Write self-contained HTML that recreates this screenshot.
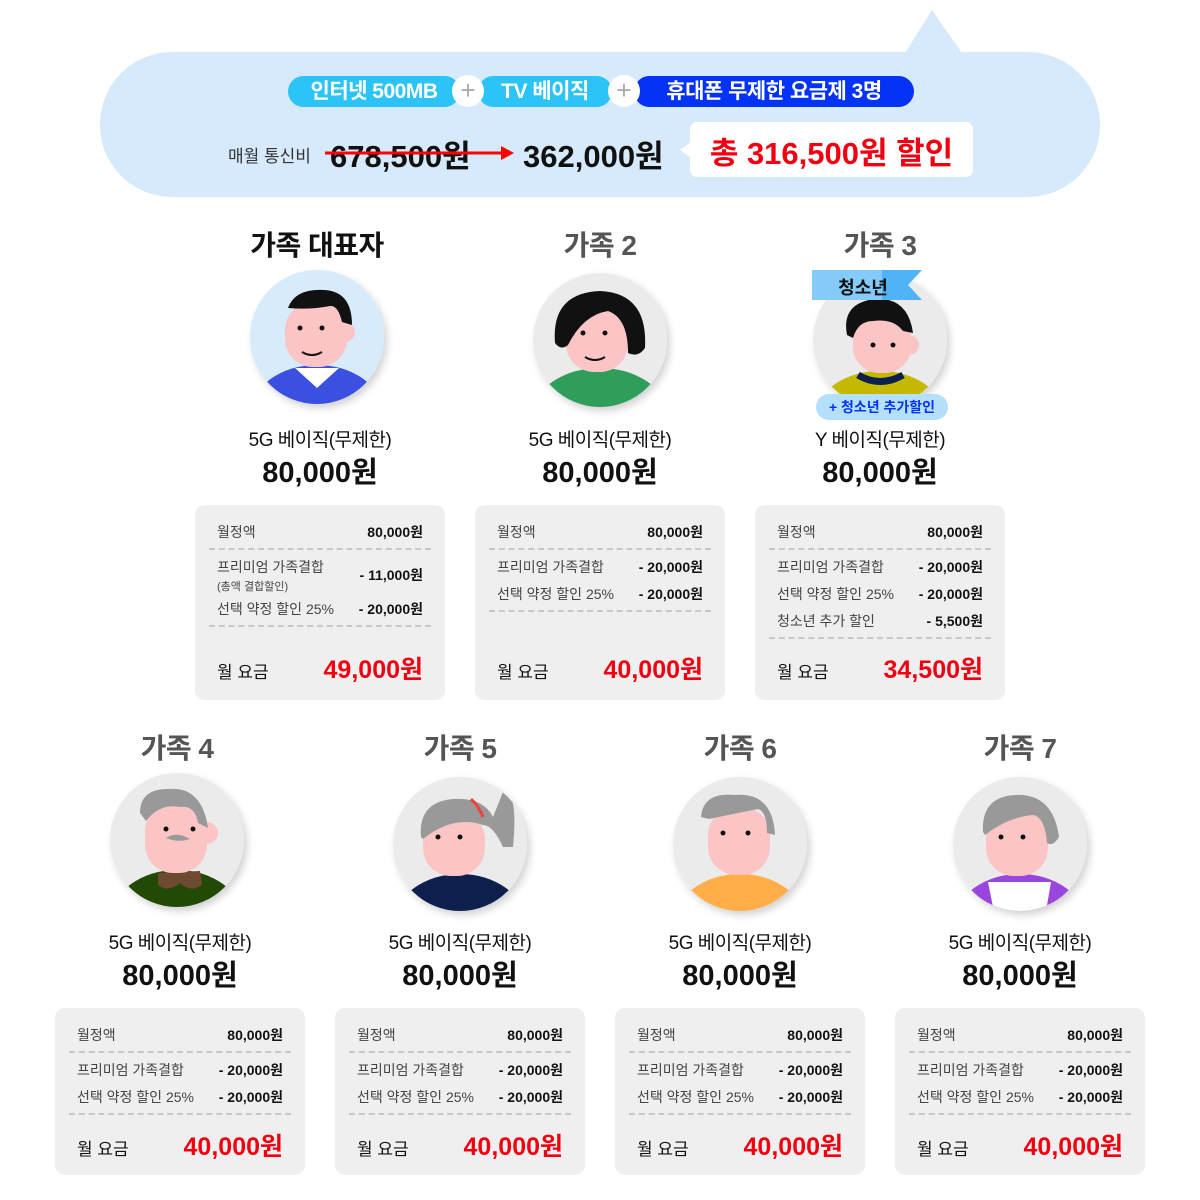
<!DOCTYPE html>
<html><head><meta charset="utf-8"><style>
*{margin:0;padding:0;box-sizing:border-box}
body{width:1200px;height:1200px;background:#fff;position:relative;overflow:hidden;font-family:"Liberation Sans","Noto Sans CJK KR",sans-serif;color:#111}
.a{position:absolute}
.pill{position:absolute;top:76px;height:31px;border-radius:16px;color:#fff;font-weight:bold;font-size:21px;line-height:31px;text-align:center;letter-spacing:-0.5px}
.plus{position:absolute;top:75px;width:32px;height:32px;border-radius:50%;background:#fff;color:#aaa;font-size:26px;line-height:30px;text-align:center}
.t{position:absolute;width:300px;text-align:center;font-size:28px;font-weight:bold;color:#555;letter-spacing:-0.5px}
.plan{position:absolute;width:300px;text-align:center;font-size:19px;color:#111;letter-spacing:-0.5px}
.price{position:absolute;width:300px;text-align:center;font-size:29px;font-weight:bold;color:#111}
.av{position:absolute;width:134px;height:134px;border-radius:50%;box-shadow:3px 4px 8px rgba(0,0,0,.18);overflow:hidden}
.card{position:absolute;width:250px;background:#efefef;border-radius:10px}
.r{position:absolute;left:22px;right:22px;font-size:14px;color:#444;display:flex;justify-content:space-between}
.r b{color:#111}
.d{position:absolute;left:14px;right:14px;border-top:2px dashed #c8c8c8}
.tot{position:absolute;left:22px;right:22px;display:flex;justify-content:space-between;align-items:baseline}
.tot span{font-size:17px;color:#111}
.tot b{font-size:25px;color:#f00010}
</style></head><body>
<svg class="a" style="left:0;top:0" width="1200" height="210"><path d="M905 53 L932 10 L962 53 Z" fill="#d6eafc"/><rect x="100" y="52" width="1000" height="145" rx="72" fill="#d6eafc"/></svg>
<div class="pill" style="left:288px;width:172px;background:#2cc3f7">인터넷 500MB</div>
<div class="pill" style="left:478px;width:134px;background:#2cc3f7">TV 베이직</div>
<div class="pill" style="left:634px;width:280px;background:#0533f5">휴대폰 무제한 요금제 3명</div>
<div class="plus" style="left:452px">+</div>
<div class="plus" style="left:608px">+</div>
<div class="a" style="left:228px;top:142px;font-size:17px;color:#333">매월 통신비</div>
<div class="a" style="left:330px;top:131px;font-size:31px;font-weight:bold">678,500원</div>
<svg class="a" style="left:325px;top:143px" width="195" height="20"><line x1="0" y1="10" x2="178" y2="10" stroke="#f00" stroke-width="3"/><path d="M176 3 L189 10 L176 17Z" fill="#f00"/></svg>
<div class="a" style="left:523px;top:131px;font-size:31px;font-weight:bold">362,000원</div>
<svg class="a" style="left:674px;top:120px" width="310" height="70"><path d="M17 22 L6 30 L17 38Z" fill="#fff"/><rect x="16" y="2" width="283" height="55" rx="7" fill="#fff"/></svg>
<div class="a" style="left:690px;top:128px;width:283px;text-align:center;font-size:31px;font-weight:bold;color:#f00010">총 316,500원 할인</div>

<div class="t" style="left:167px;top:224px;color:#111">가족 대표자</div>
<div class="t" style="left:450px;top:224px">가족 2</div>
<div class="t" style="left:730px;top:224px">가족 3</div>

<div class="av" style="left:250px;top:270px"><svg width="134" height="134"><rect width="134" height="134" fill="#d7ebfb"/><ellipse cx="67" cy="140" rx="64" ry="45" fill="#3b4fe0"/><path d="M45 98 L67 118 L89 98Z" fill="#fff"/><rect x="35" y="32" width="62" height="65" rx="28" fill="#fcc5c5"/><circle cx="95" cy="62" r="10" fill="#fcc5c5"/><path d="M38 38 Q45 18 75 20 Q102 22 102 55 L92 52 Q88 35 80 36 Q60 40 38 38Z" fill="#111"/><circle cx="50" cy="58" r="2.5" fill="#111"/><circle cx="72" cy="58" r="2.5" fill="#111"/><path d="M52 82 Q62 88 72 82" stroke="#111" stroke-width="2" fill="none"/></svg></div>
<div class="av" style="left:533px;top:273px"><svg width="134" height="134"><rect width="134" height="134" fill="#ebebeb"/><ellipse cx="67" cy="140" rx="66" ry="45" fill="#2f9e5a"/><rect x="33" y="34" width="62" height="65" rx="28" fill="#fcc5c5"/><path d="M22 70 Q18 20 67 18 Q115 20 112 75 Q105 85 95 80 Q95 45 75 38 Q50 42 35 72 Q28 78 22 70Z" fill="#111"/><circle cx="50" cy="60" r="2.5" fill="#111"/><circle cx="72" cy="60" r="2.5" fill="#111"/><path d="M52 84 Q62 90 72 84" stroke="#111" stroke-width="2" fill="none"/></svg></div>
<div class="av" style="left:813px;top:273px"><svg width="134" height="134"><rect width="134" height="134" fill="#ebebeb"/><ellipse cx="67" cy="140" rx="62" ry="42" fill="#c5b800"/><path d="M45 102 Q67 115 90 102" stroke="#0d1f4d" stroke-width="7" fill="none"/><rect x="40" y="38" width="58" height="62" rx="26" fill="#fcc5c5"/><circle cx="96" cy="72" r="10" fill="#fcc5c5"/><path d="M34 62 Q28 30 62 26 Q95 24 100 60 L90 58 Q80 45 60 48 Q45 48 40 65Z" fill="#111"/><circle cx="60" cy="72" r="2.5" fill="#111"/><circle cx="80" cy="72" r="2.5" fill="#111"/></svg></div>
<svg class="a" style="left:812px;top:268px" width="112" height="36"><path d="M0 2 H110 L96 17 L110 32 H0Z" fill="#4fb3f5"/><path d="M0 2 H70 V32 H0Z" fill="#a9dafb" opacity=".6"/></svg>
<div class="a" style="left:818px;top:274px;width:90px;text-align:center;font-size:18px;font-weight:bold;color:#111">청소년</div>
<div class="a" style="left:816px;top:394px;width:132px;height:26px;border-radius:13px;background:#b5e0fb;color:#0533f5;font-size:14px;font-weight:bold;text-align:center;line-height:26px">+ 청소년 추가할인</div>

<div class="plan" style="left:170px;top:425px">5G 베이직(무제한)</div>
<div class="plan" style="left:450px;top:425px">5G 베이직(무제한)</div>
<div class="plan" style="left:730px;top:425px">Y 베이직(무제한)</div>
<div class="price" style="left:170px;top:449px">80,000원</div>
<div class="price" style="left:450px;top:449px">80,000원</div>
<div class="price" style="left:730px;top:449px">80,000원</div>

<div class="card" style="left:195px;top:505px;height:195px">
<div class="r" style="top:17px"><span>월정액</span><b>80,000원</b></div>
<div class="d" style="top:43px"></div>
<div class="r" style="top:52px"><span>프리미엄 가족결합<br><small style="font-size:11px">(총액 결합할인)</small></span><b style="margin-top:8px">- 11,000원</b></div>
<div class="r" style="top:94px"><span>선택 약정 할인 25%</span><b>- 20,000원</b></div>
<div class="d" style="top:120px"></div>
<div class="tot" style="top:145px"><span>월 요금</span><b>49,000원</b></div>
</div>
<div class="card" style="left:475px;top:505px;height:195px">
<div class="r" style="top:17px"><span>월정액</span><b>80,000원</b></div>
<div class="d" style="top:43px"></div>
<div class="r" style="top:52px"><span>프리미엄 가족결합</span><b>- 20,000원</b></div>
<div class="r" style="top:79px"><span>선택 약정 할인 25%</span><b>- 20,000원</b></div>
<div class="d" style="top:105px"></div>
<div class="tot" style="top:145px"><span>월 요금</span><b>40,000원</b></div>
</div>
<div class="card" style="left:755px;top:505px;height:195px">
<div class="r" style="top:17px"><span>월정액</span><b>80,000원</b></div>
<div class="d" style="top:43px"></div>
<div class="r" style="top:52px"><span>프리미엄 가족결합</span><b>- 20,000원</b></div>
<div class="r" style="top:79px"><span>선택 약정 할인 25%</span><b>- 20,000원</b></div>
<div class="r" style="top:106px"><span>청소년 추가 할인</span><b>- 5,500원</b></div>
<div class="d" style="top:132px"></div>
<div class="tot" style="top:145px"><span>월 요금</span><b>34,500원</b></div>
</div>

<div class="t" style="left:27px;top:727px">가족 4</div>
<div class="t" style="left:310px;top:727px">가족 5</div>
<div class="t" style="left:590px;top:727px">가족 6</div>
<div class="t" style="left:870px;top:727px">가족 7</div>

<div class="av" style="left:110px;top:773px"><svg width="134" height="134"><rect width="134" height="134" fill="#ebebeb"/><ellipse cx="67" cy="145" rx="65" ry="48" fill="#234a04"/><path d="M48 100 L90 98 L92 112 Q80 120 70 110 Q58 120 48 112Z" fill="#6e4a30"/><rect x="35" y="30" width="62" height="70" rx="28" fill="#fcc5c5"/><circle cx="97" cy="60" r="11" fill="#fcc5c5"/><path d="M30 40 Q30 15 60 16 Q92 14 98 55 L88 50 Q85 32 70 34 Q50 30 36 48Z" fill="#999"/><path d="M56 65 Q66 58 80 66 Q68 70 56 65" fill="#999"/><circle cx="56" cy="56" r="2.5" fill="#111"/><circle cx="83" cy="56" r="2.5" fill="#111"/></svg></div>
<div class="av" style="left:393px;top:777px"><svg width="134" height="134"><rect width="134" height="134" fill="#ebebeb"/><ellipse cx="67" cy="145" rx="65" ry="48" fill="#0d1f4d"/><rect x="30" y="34" width="62" height="65" rx="28" fill="#fcc5c5"/><path d="M28 60 Q25 25 60 22 Q90 20 100 40 L112 10 Q125 20 120 70 L110 70 Q100 48 90 48 Q60 38 30 62Z" fill="#999"/><path d="M78 22 Q85 28 90 40" stroke="#f04040" stroke-width="3" fill="none"/><circle cx="45" cy="60" r="2.5" fill="#111"/><circle cx="67" cy="60" r="2.5" fill="#111"/></svg></div>
<div class="av" style="left:673px;top:777px"><svg width="134" height="134"><rect width="134" height="134" fill="#ebebeb"/><ellipse cx="67" cy="145" rx="65" ry="48" fill="#ffae4a"/><rect x="35" y="30" width="62" height="68" rx="28" fill="#fcc5c5"/><path d="M28 40 Q30 15 62 18 Q100 15 102 58 L94 56 Q94 35 85 32 Q55 38 36 42Z" fill="#999"/><circle cx="50" cy="56" r="2.5" fill="#111"/><circle cx="75" cy="56" r="2.5" fill="#111"/></svg></div>
<div class="av" style="left:953px;top:777px"><svg width="134" height="134"><rect width="134" height="134" fill="#ebebeb"/><ellipse cx="67" cy="145" rx="65" ry="48" fill="#9a45dd"/><path d="M35 105 L98 105 L92 140 L42 140Z" fill="#fff"/><rect x="33" y="34" width="62" height="65" rx="28" fill="#fcc5c5"/><path d="M30 55 Q28 20 62 18 Q100 16 106 60 Q100 70 94 66 Q92 40 80 38 Q55 40 32 58Z" fill="#999"/><circle cx="48" cy="60" r="2.5" fill="#111"/><circle cx="70" cy="60" r="2.5" fill="#111"/></svg></div>

<div class="plan" style="left:30px;top:928px">5G 베이직(무제한)</div>
<div class="plan" style="left:310px;top:928px">5G 베이직(무제한)</div>
<div class="plan" style="left:590px;top:928px">5G 베이직(무제한)</div>
<div class="plan" style="left:870px;top:928px">5G 베이직(무제한)</div>
<div class="price" style="left:30px;top:952px">80,000원</div>
<div class="price" style="left:310px;top:952px">80,000원</div>
<div class="price" style="left:590px;top:952px">80,000원</div>
<div class="price" style="left:870px;top:952px">80,000원</div>

<div class="card" style="left:55px;top:1008px;height:167px">
<div class="r" style="top:17px"><span>월정액</span><b>80,000원</b></div><div class="d" style="top:43px"></div>
<div class="r" style="top:52px"><span>프리미엄 가족결합</span><b>- 20,000원</b></div>
<div class="r" style="top:79px"><span>선택 약정 할인 25%</span><b>- 20,000원</b></div><div class="d" style="top:105px"></div>
<div class="tot" style="top:119px"><span>월 요금</span><b>40,000원</b></div></div>
<div class="card" style="left:335px;top:1008px;height:167px">
<div class="r" style="top:17px"><span>월정액</span><b>80,000원</b></div><div class="d" style="top:43px"></div>
<div class="r" style="top:52px"><span>프리미엄 가족결합</span><b>- 20,000원</b></div>
<div class="r" style="top:79px"><span>선택 약정 할인 25%</span><b>- 20,000원</b></div><div class="d" style="top:105px"></div>
<div class="tot" style="top:119px"><span>월 요금</span><b>40,000원</b></div></div>
<div class="card" style="left:615px;top:1008px;height:167px">
<div class="r" style="top:17px"><span>월정액</span><b>80,000원</b></div><div class="d" style="top:43px"></div>
<div class="r" style="top:52px"><span>프리미엄 가족결합</span><b>- 20,000원</b></div>
<div class="r" style="top:79px"><span>선택 약정 할인 25%</span><b>- 20,000원</b></div><div class="d" style="top:105px"></div>
<div class="tot" style="top:119px"><span>월 요금</span><b>40,000원</b></div></div>
<div class="card" style="left:895px;top:1008px;height:167px">
<div class="r" style="top:17px"><span>월정액</span><b>80,000원</b></div><div class="d" style="top:43px"></div>
<div class="r" style="top:52px"><span>프리미엄 가족결합</span><b>- 20,000원</b></div>
<div class="r" style="top:79px"><span>선택 약정 할인 25%</span><b>- 20,000원</b></div><div class="d" style="top:105px"></div>
<div class="tot" style="top:119px"><span>월 요금</span><b>40,000원</b></div></div>
</body></html>
